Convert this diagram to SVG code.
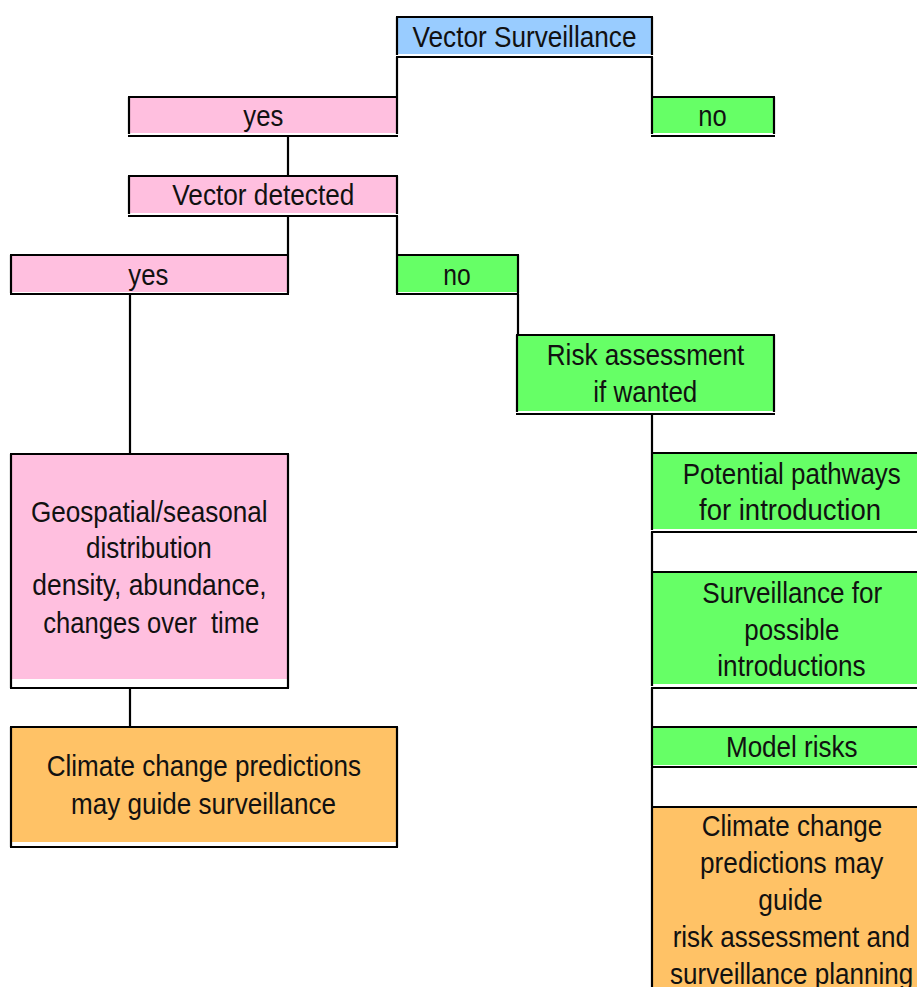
<svg xmlns="http://www.w3.org/2000/svg" width="917" height="987" viewBox="0 0 917 987">
<style>
.b{stroke:#000;stroke-width:2.2;fill:none}
.pink{fill:#FFBFDF}
.green{fill:#66FF66}
.blue{fill:#99CCFF}
.orange{fill:#FFC266}
text{font-family:"Liberation Sans","Arial",sans-serif;font-size:30px;fill:#111;text-anchor:middle;white-space:pre}
</style>
<rect x="0" y="0" width="917" height="987" fill="#fff"/>
<g id="connectors" class="b">
<path d="M396,57H653M397,57V97M652,57V97"/>
<path d="M288,136V176"/>
<path d="M288,216V255M397,216V255"/>
<path d="M130,294V454"/>
<path d="M518,294V335"/>
<path d="M652,414V453"/>
<path d="M652,532V572"/>
<path d="M652,688V727"/>
<path d="M652,767V807"/>
<path d="M130,688V727"/>
</g>
<g id="vector-surveillance">
<rect class="blue" x="397" y="17" width="255" height="37"/>
<path class="b" d="M396,17H653M397,17V55M652,17V55"/>
<text x="524.5" y="47" textLength="224" lengthAdjust="spacingAndGlyphs">Vector Surveillance</text>
</g>
<g id="yes-1">
<rect class="pink" x="129" y="97" width="268" height="36"/>
<path class="b" d="M128,97H398M129,97V134M397,97V134M128,136H398"/>
<text x="263.3" y="126" textLength="40" lengthAdjust="spacingAndGlyphs">yes</text>
</g>
<g id="no-1">
<rect class="green" x="652" y="97" width="122" height="36"/>
<path class="b" d="M651,97H775M652,97V134M774,97V134M651,136H775"/>
<text x="712.5" y="126" textLength="28.4" lengthAdjust="spacingAndGlyphs">no</text>
</g>
<g id="vector-detected">
<rect class="pink" x="129" y="176" width="268" height="37"/>
<path class="b" d="M128,176H398M129,176V214M397,176V214M128,216H398"/>
<text x="263.3" y="205" textLength="182" lengthAdjust="spacingAndGlyphs">Vector detected</text>
</g>
<g id="yes-2">
<rect class="pink" x="11" y="255" width="277" height="37"/>
<path class="b" d="M10,255H289M11,255V293M288,255V293M10,294H289"/>
<text x="148.3" y="285" textLength="40" lengthAdjust="spacingAndGlyphs">yes</text>
</g>
<g id="no-2">
<rect class="green" x="397" y="255" width="121" height="37"/>
<path class="b" d="M396,255H519M397,255V293M518,255V293M396,294H519"/>
<text x="457" y="285" textLength="27.4" lengthAdjust="spacingAndGlyphs">no</text>
</g>
<g id="risk-assessment">
<rect class="green" x="517" y="335" width="257" height="76"/>
<path class="b" d="M516,335H775M517,335V412M774,335V412M516,414H775"/>
<text x="645.5" y="365" textLength="197.6" lengthAdjust="spacingAndGlyphs">Risk assessment</text>
<text x="645.3" y="402" textLength="104" lengthAdjust="spacingAndGlyphs">if wanted</text>
</g>
<g id="potential-pathways">
<rect class="green" x="652" y="453" width="265" height="76"/>
<path class="b" d="M651,453H917M652,453V530M651,532H917"/>
<text x="791.8" y="484" textLength="218" lengthAdjust="spacingAndGlyphs">Potential pathways</text>
<text x="790" y="520" textLength="182" lengthAdjust="spacingAndGlyphs">for introduction</text>
</g>
<g id="surveillance-introductions">
<rect class="green" x="652" y="572" width="265" height="112"/>
<path class="b" d="M651,572H917M652,572V686M651,688H917"/>
<text x="792.3" y="603" textLength="180" lengthAdjust="spacingAndGlyphs">Surveillance for</text>
<text x="791.8" y="639.5" textLength="95" lengthAdjust="spacingAndGlyphs">possible</text>
<text x="791.5" y="676" textLength="148.4" lengthAdjust="spacingAndGlyphs">introductions</text>
</g>
<g id="model-risks">
<rect class="green" x="652" y="727" width="265" height="38"/>
<path class="b" d="M651,727H917M652,727V766M651,767H917"/>
<text x="791.8" y="757" textLength="131.7" lengthAdjust="spacingAndGlyphs">Model risks</text>
</g>
<g id="climate-right">
<rect class="orange" x="652" y="807" width="265" height="180"/>
<path class="b" d="M651,807H917M652,807V987"/>
<text x="792" y="836" textLength="180.6" lengthAdjust="spacingAndGlyphs">Climate change</text>
<text x="791.7" y="873" textLength="183.3" lengthAdjust="spacingAndGlyphs">predictions may</text>
<text x="790.5" y="910" textLength="64.4" lengthAdjust="spacingAndGlyphs">guide</text>
<text x="791.3" y="947" textLength="237.3" lengthAdjust="spacingAndGlyphs">risk assessment and</text>
<text x="791.7" y="983.5" textLength="243.3" lengthAdjust="spacingAndGlyphs">surveillance planning</text>
</g>
<g id="geospatial">
<rect class="pink" x="11" y="454" width="277" height="225"/>
<path class="b" d="M10,454H289M11,454V688M288,454V688M10,688H289"/>
<text x="149.3" y="521.7" textLength="236.7" lengthAdjust="spacingAndGlyphs">Geospatial/seasonal</text>
<text x="148.8" y="558.3" textLength="125.7" lengthAdjust="spacingAndGlyphs">distribution</text>
<text x="149.5" y="595" textLength="234.3" lengthAdjust="spacingAndGlyphs">density, abundance,</text>
<text x="151.3" y="632.7" textLength="216" lengthAdjust="spacingAndGlyphs">changes over  time</text>
</g>
<g id="climate-left">
<rect class="orange" x="11" y="727" width="386" height="115"/>
<path class="b" d="M10,727H398M11,727V847M397,727V847M10,847H398"/>
<text x="203.8" y="776" textLength="314.3" lengthAdjust="spacingAndGlyphs">Climate change predictions</text>
<text x="203.5" y="814" textLength="265" lengthAdjust="spacingAndGlyphs">may guide surveillance</text>
</g>
</svg>
